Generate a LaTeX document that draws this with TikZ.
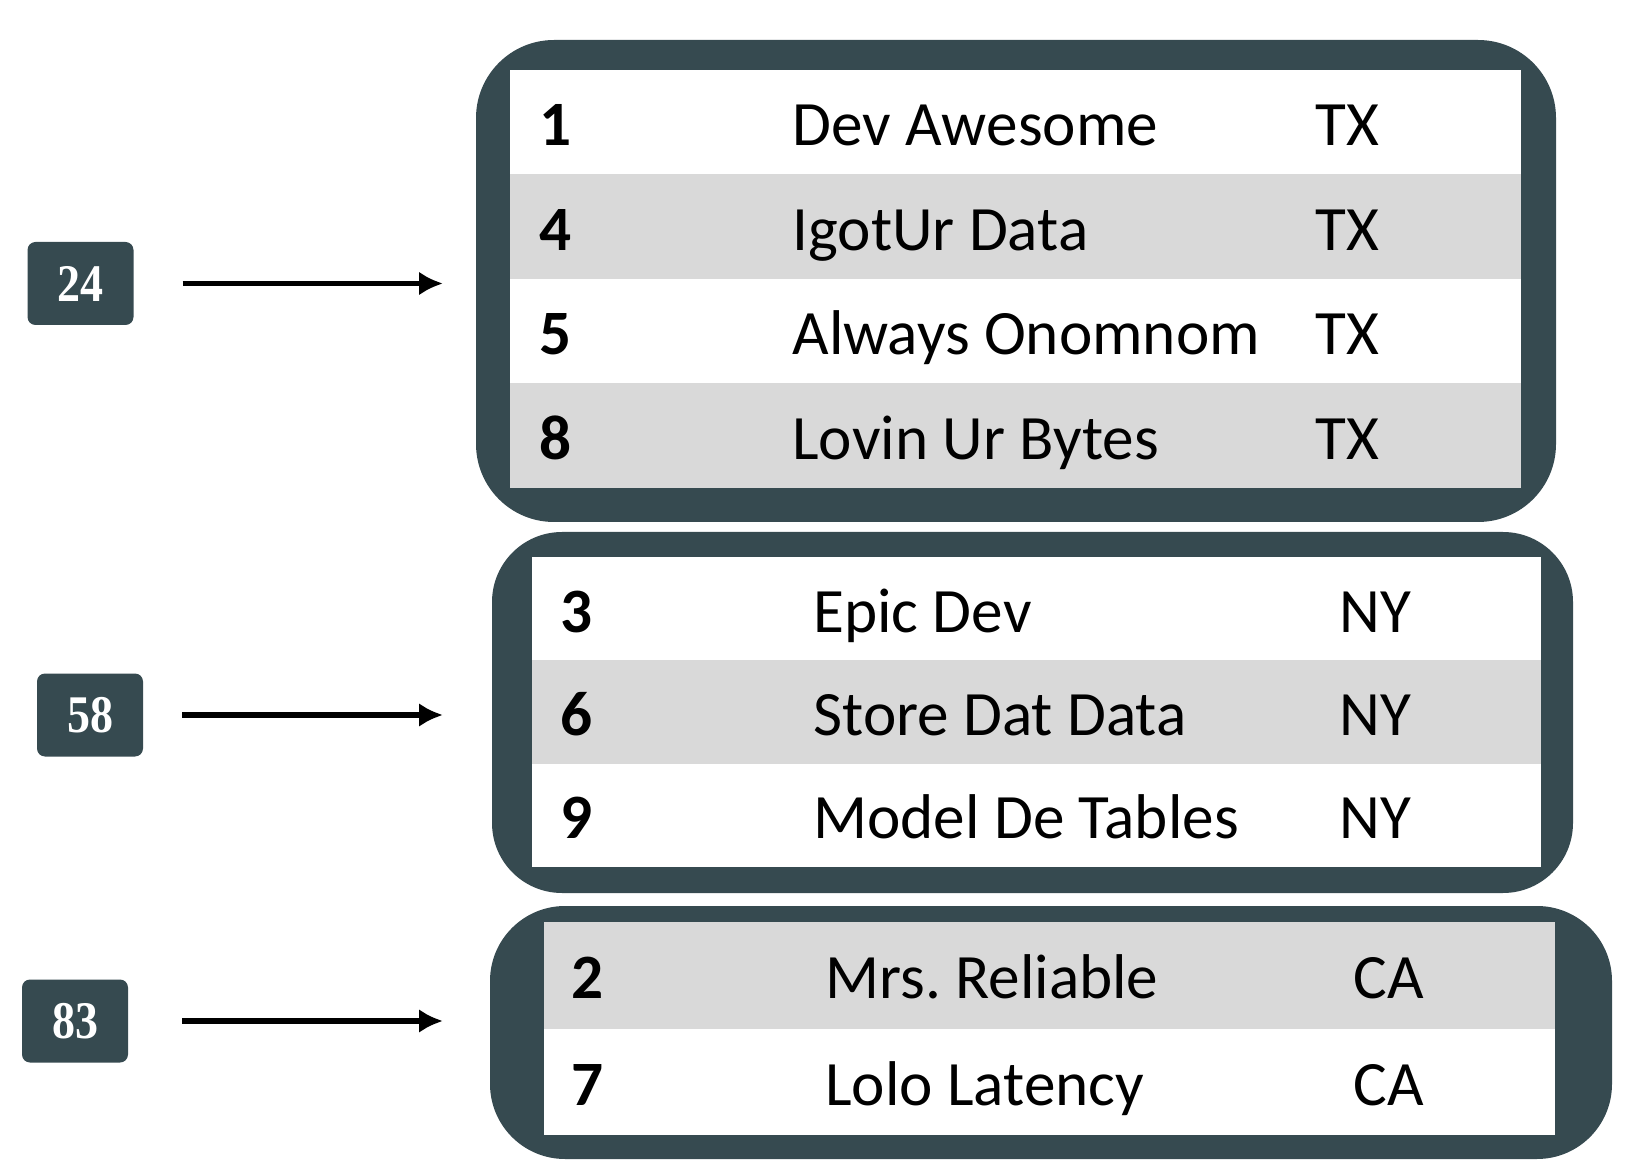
\documentclass[tikz,border=0pt]{standalone}
\usepackage{fontspec}
\usepackage{graphicx}
\setmainfont{Carlito}
\newfontfamily\labelfont{Liberation Serif}
\usetikzlibrary{arrows.meta}
\definecolor{slate}{RGB}{54,74,80}
\definecolor{rowgray}{RGB}{217,217,217}
\begin{document}
\begin{tikzpicture}[x=0.5pt,y=-0.5pt,
  outerbox/.style={fill=slate, draw=none, inner sep=0pt, outer sep=0pt, rectangle},
  lbl/.style={fill=slate, rounded corners=4pt, text=white, inner sep=0pt, outer sep=0pt,
    font=\labelfont\bfseries\fontsize{23}{23}\selectfont, minimum width=53pt, minimum height=41.5pt},
  idtxt/.style={anchor=base west, inner sep=0pt, font=\bfseries\fontsize{31.6}{36}\selectfont},
  celltxt/.style={anchor=base west, inner sep=0pt, font=\fontsize{31.6}{36}\selectfont},
  conn/.style={draw=black, line width=2.9pt, -{Latex[length=12pt,width=12pt]}}
]
\useasboundingbox (0,0) rectangle (1634,1176);

% ---------- group boxes ----------
\node[outerbox, rounded corners=39pt, minimum width=540pt, minimum height=241pt] (box1) at (1016,281) {};
\node[outerbox, rounded corners=35pt, minimum width=540.5pt, minimum height=180.5pt] (box2) at (1032.5,712.5) {};
\node[outerbox, rounded corners=37.5pt, minimum width=561pt, minimum height=126.5pt] (box3) at (1051,1032.5) {};

% ---------- rows of box 1 ----------
\fill[white]   (510,70)    rectangle (1521,174.5);
\fill[rowgray] (510,174.5) rectangle (1521,279);
\fill[white]   (510,279)   rectangle (1521,383.5);
\fill[rowgray] (510,383.5) rectangle (1521,488);

% ---------- rows of box 2 ----------
\fill[white]   (532,557)   rectangle (1541,660.3);
\fill[rowgray] (532,660.3) rectangle (1541,763.7);
\fill[white]   (532,763.7) rectangle (1541,867);

% ---------- rows of box 3 ----------
\fill[rowgray] (544,922)    rectangle (1555,1028.5);
\fill[white]   (544,1028.5) rectangle (1555,1135);

% ---------- texts box 1 ----------
\node[idtxt]   (a1) at (539,145.8) {1};
\node[celltxt] (b1) at (792,145.8) {Dev Awesome};
\node[celltxt] (c1) at (1315,145.8) {TX};
\node[idtxt]   (a2) at (539,250.3) {4};
\node[celltxt] (b2) at (792,250.3) {IgotUr Data};
\node[celltxt] (c2) at (1315,250.3) {TX};
\node[idtxt]   (a3) at (539,354.8) {5};
\node[celltxt] (b3) at (792,354.8) {Always Onomnom};
\node[celltxt] (c3) at (1315,354.8) {TX};
\node[idtxt]   (a4) at (539,459.3) {8};
\node[celltxt] (b4) at (792,459.3) {Lovin Ur Bytes};
\node[celltxt] (c4) at (1315,459.3) {TX};

% ---------- texts box 2 ----------
\node[idtxt]   (a5) at (560,632.2) {3};
\node[celltxt] (b5) at (813,632.2) {Epic Dev};
\node[celltxt] (c5) at (1339,632.2) {NY};
\node[idtxt]   (a6) at (560,735.5) {6};
\node[celltxt] (b6) at (813,735.5) {Store Dat Data};
\node[celltxt] (c6) at (1339,735.5) {NY};
\node[idtxt]   (a7) at (560,838.8) {9};
\node[celltxt] (b7) at (813,838.8) {Model De Tables};
\node[celltxt] (c7) at (1339,838.8) {NY};

% ---------- texts box 3 ----------
\node[idtxt]   (a8) at (571,998.7) {2};
\node[celltxt] (b8) at (825,998.7) {Mrs.\ Reliable};
\node[celltxt] (c8) at (1353,998.7) {CA};
\node[idtxt]   (a9) at (571,1105.2) {7};
\node[celltxt] (b9) at (825,1105.2) {Lolo Latency};
\node[celltxt] (c9) at (1353,1105.2) {CA};

% ---------- labels ----------
\node[lbl] (l24) at (80.5,283.5) {\scalebox{1}[1.15]{24}};
\node[lbl] (l58) at (90,715) {\scalebox{1}[1.15]{58}};
\node[lbl] (l83) at (75,1021) {\scalebox{1}[1.15]{83}};

% ---------- arrows ----------
\draw[conn, shorten <=24.5pt, shorten >=16.5pt] (l24) -- (l24 -| box1.west);
\draw[conn, shorten <=19.5pt, shorten >=24.5pt] (l58) -- (l58 -| box2.west);
\draw[conn, shorten <=27pt, shorten >=23.5pt] (l83) -- (l83 -| box3.west);
\end{tikzpicture}
\end{document}
